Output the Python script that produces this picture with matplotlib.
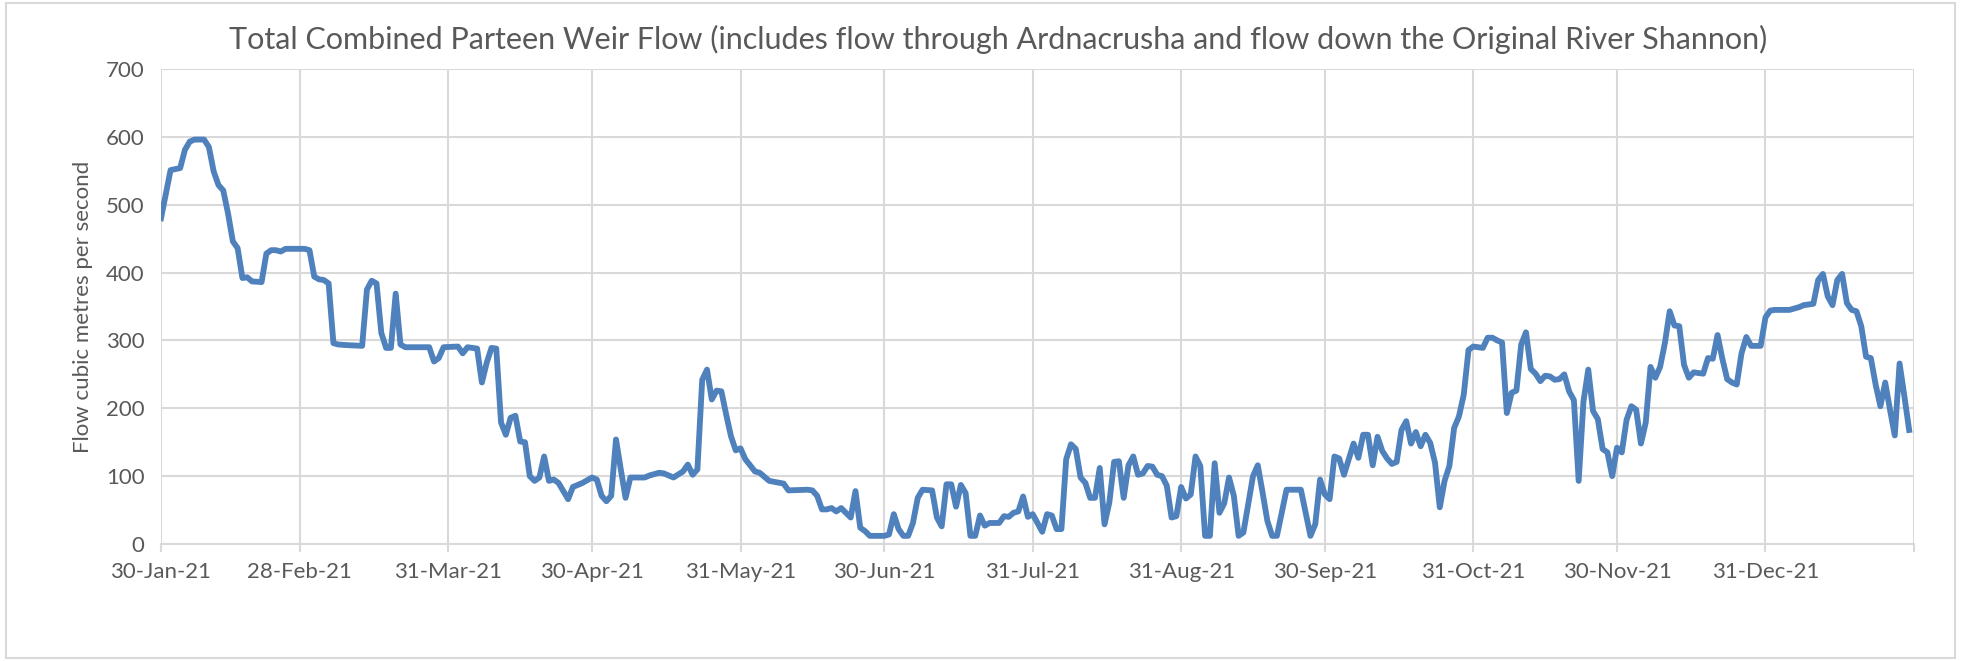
import matplotlib
matplotlib.use("Agg")
import matplotlib.pyplot as plt
from matplotlib.patches import Rectangle
import pandas as pd

# days after 30-Jan-21 where the line turns, and the flow there (m3/s)
day = [0, 2, 4, 5, 6, 7, 9, 10, 11, 12, 13, 14, 15, 16, 17, 18, 19, 21, 22, 23,
       24, 25, 26, 30, 31, 32, 33, 34, 35, 36, 37, 39, 42, 43, 44, 45, 46, 47, 48, 49,
       50, 51, 53, 56, 57, 58, 59, 62, 63, 64, 66, 67, 68, 69, 70, 71, 72, 73, 74, 75,
       76, 77, 78, 79, 80, 81, 82, 83, 85, 86, 88, 90, 91, 92, 93, 94, 95, 96, 97, 98,
       99, 101, 102, 104, 105, 106, 107, 109, 110, 111, 112, 113, 114, 115, 116, 117, 118, 119, 120, 121,
       122, 124, 125, 127, 130, 131, 135, 136, 137, 138, 139, 140, 141, 142, 144, 145, 146, 147, 148, 151,
       152, 153, 154, 155, 156, 157, 158, 159, 161, 162, 163, 164, 165, 166, 167, 168, 169, 170, 171, 172,
       173, 175, 176, 177, 178, 179, 180, 181, 182, 183, 184, 185, 186, 187, 188, 189, 190, 191, 192, 193,
       194, 195, 196, 197, 198, 199, 200, 201, 202, 203, 204, 205, 206, 207, 208, 209, 210, 211, 212, 213,
       214, 215, 216, 217, 218, 219, 220, 221, 222, 223, 224, 225, 226, 228, 229, 230, 231, 232, 233, 234,
       235, 236, 238, 239, 240, 241, 242, 243, 244, 245, 246, 247, 248, 249, 250, 251, 252, 253, 254, 255,
       256, 257, 258, 259, 260, 261, 262, 263, 264, 265, 266, 267, 268, 269, 270, 271, 272, 273, 274, 276,
       277, 278, 279, 280, 281, 282, 283, 284, 285, 286, 287, 288, 289, 290, 291, 292, 293, 294, 295, 296,
       297, 298, 299, 300, 301, 302, 303, 304, 305, 306, 307, 308, 309, 310, 311, 312, 313, 314, 315, 316,
       317, 318, 319, 320, 322, 323, 324, 325, 326, 327, 328, 329, 330, 331, 332, 334, 335, 336, 337, 340,
       342, 343, 345, 346, 347, 348, 349, 350, 351, 352, 353, 354, 355, 356, 357, 358, 359, 360, 361, 362,
       363, 364, 365]
flow = [480, 551, 554, 581, 593, 596, 596, 585, 549, 529, 521, 487, 446, 436, 392, 393, 387, 386, 428, 433,
        433, 431, 435, 435, 433, 394, 390, 389, 384, 296, 294, 293, 292, 375, 388, 384, 311, 289, 289, 369,
        294, 290, 290, 290, 269, 274, 290, 291, 281, 290, 288, 238, 267, 289, 288, 179, 161, 186, 189, 151,
        150, 100, 93, 98, 129, 93, 95, 90, 66, 84, 90, 98, 95, 71, 63, 71, 154, 110, 68, 98,
        98, 98, 101, 105, 104, 101, 98, 107, 117, 102, 110, 242, 257, 213, 226, 225, 191, 159, 138, 141,
        125, 107, 105, 93, 89, 79, 80, 79, 71, 51, 51, 53, 48, 53, 39, 78, 24, 19, 12, 12,
        14, 44, 22, 12, 12, 31, 68, 80, 79, 39, 26, 88, 88, 55, 87, 75, 12, 12, 42, 27,
        31, 31, 41, 40, 46, 48, 70, 40, 44, 31, 18, 44, 42, 22, 22, 125, 147, 140, 98, 90,
        68, 68, 112, 29, 61, 121, 122, 68, 116, 129, 102, 104, 115, 114, 102, 100, 86, 39, 41, 84,
        67, 73, 129, 115, 12, 12, 119, 46, 60, 98, 71, 12, 17, 100, 116, 76, 34, 12, 12, 46,
        80, 80, 80, 46, 12, 29, 95, 73, 66, 129, 126, 102, 125, 148, 127, 161, 161, 116, 158, 137,
        126, 118, 121, 168, 181, 148, 165, 144, 161, 149, 120, 54, 93, 115, 171, 188, 220, 286, 291, 289,
        304, 304, 300, 297, 193, 223, 226, 294, 312, 258, 251, 240, 248, 247, 242, 243, 250, 225, 212, 93,
        210, 257, 196, 184, 140, 135, 100, 142, 135, 183, 203, 198, 148, 179, 261, 245, 261, 296, 343, 322,
        321, 264, 245, 253, 251, 274, 273, 308, 273, 243, 238, 235, 281, 305, 292, 292, 334, 344, 345, 345,
        349, 352, 354, 389, 398, 365, 352, 389, 398, 355, 345, 343, 321, 276, 274, 235, 203, 238, 198, 160,
        266, 218, 168]

start = pd.Timestamp("2021-01-30")
end = pd.Timestamp("2022-01-31")
tick_dates = ["2021-01-30", "2021-02-28", "2021-03-31", "2021-04-30", "2021-05-31", "2021-06-30",
              "2021-07-31", "2021-08-31", "2021-09-30", "2021-10-31", "2021-11-30", "2021-12-31"]
tick_labels = ["30-Jan-21", "28-Feb-21", "31-Mar-21", "30-Apr-21", "31-May-21", "30-Jun-21",
               "31-Jul-21", "31-Aug-21", "30-Sep-21", "31-Oct-21", "30-Nov-21", "31-Dec-21"]

dates = start + pd.to_timedelta(day, unit="D")

txt = "#595959"
grid = "#d9d9d9"
plt.rcParams["font.family"] = ["Lato", "DejaVu Sans"]

fig = plt.figure(figsize=(19.61, 6.61), dpi=100)
ax = fig.add_axes([0.0821, 0.177, 0.8939, 0.7186])

ax.plot(dates, flow, color="#4f81bd", lw=4.2, solid_joinstyle="round", zorder=3)

ax.set_ylim(0, 700)
ax.set_yticks(range(0, 701, 100))
ax.set_xlim(start, end)
ax.set_xticks(pd.to_datetime(tick_dates + ["2022-01-31"]))
ax.set_xticklabels(tick_labels + [""])
ax.grid(True, color=grid, lw=1.5)
ax.set_axisbelow(True)
for s in ["top", "left", "right"]:
    ax.spines[s].set_visible(False)
ax.spines["bottom"].set_color(grid)
ax.spines["bottom"].set_linewidth(1.5)
ax.tick_params(axis="x", colors=grid, length=6, width=1.5, pad=7, labelcolor=txt, labelsize=16)
ax.tick_params(axis="y", length=0, pad=12, labelcolor=txt, labelsize=16)

ax.set_ylabel("Flow cubic metres per second", color=txt, fontsize=16, labelpad=9)
fig.text(0.509, 0.94, "Total Combined Parteen Weir Flow (includes flow through Ardnacrusha and flow down the Original River Shannon)",
         ha="center", va="center", color=txt, fontsize=22)

fig.patches.append(Rectangle((0.003, 0.005), 0.994, 0.99, transform=fig.transFigure,
                             fill=False, edgecolor=grid, lw=1.5))

fig.savefig("out.png", dpi=100)
